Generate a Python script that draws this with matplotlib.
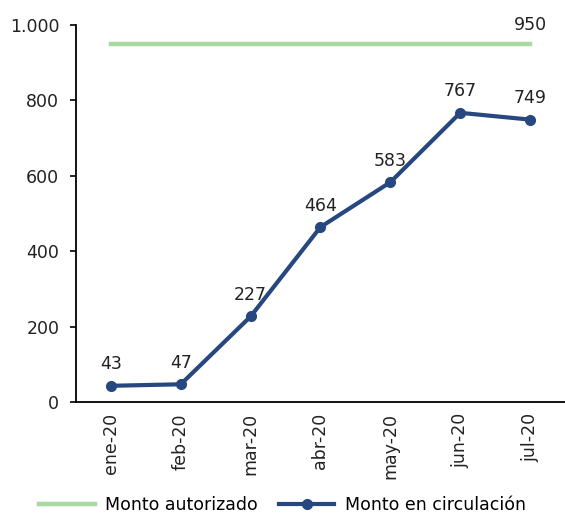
import matplotlib.pyplot as plt

meses = ['ene-20', 'feb-20', 'mar-20', 'abr-20', 'may-20', 'jun-20', 'jul-20']
autorizado = [950, 950, 950, 950, 950, 950, 950]
circulacion = [43, 47, 227, 464, 583, 767, 749]
yticks = [0, 200, 400, 600, 800, 1000]
ytick_labels = ['0', '200', '400', '600', '800', '1.000']

plt.rcParams['font.family'] = ['DejaVu Sans']
fs = 12.5

fig = plt.figure(figsize=(5.65, 5.15), dpi=100)
ax = fig.add_axes([0.1345, 0.2194, 0.8655, 0.7321])

x = range(len(meses))
ax.plot(x, autorizado, color='#a9d9a3', linewidth=3.2, label='Monto autorizado')
ax.plot(x, circulacion, color='#26477f', linewidth=3, marker='o', markersize=7,
        label='Monto en circulación')

for i, v in enumerate(circulacion):
    ax.annotate(str(v), (i, v), xytext=(0, 9), textcoords='offset points',
                ha='center', va='bottom', fontsize=fs, color='#222222')
ax.annotate(str(autorizado[-1]), (len(meses) - 1, autorizado[-1]), xytext=(0, 7),
            textcoords='offset points', ha='center', va='bottom', fontsize=fs,
            color='#222222')

ax.set_xlim(-0.5, len(meses) - 0.5)
ax.set_ylim(0, 1000)
ax.set_yticks(yticks)
ax.set_yticklabels(ytick_labels, fontsize=fs, color='#222222')
ax.set_xticks(list(x))
ax.set_xticklabels(meses, rotation=90, fontsize=fs, color='#222222')
ax.tick_params(axis='x', length=0, pad=8)
ax.tick_params(axis='y', length=4, width=1.2, pad=8)
for s in ['top', 'right']:
    ax.spines[s].set_visible(False)
for s in ['left', 'bottom']:
    ax.spines[s].set_linewidth(1.3)

fig.legend(*ax.get_legend_handles_labels(), loc='center', bbox_to_anchor=(0.5, 0.02),
           ncol=2, frameon=False, fontsize=fs, handlelength=3.2, columnspacing=1.2,
           borderpad=0, handletextpad=0.6)

fig.savefig('out.png', dpi=100)
